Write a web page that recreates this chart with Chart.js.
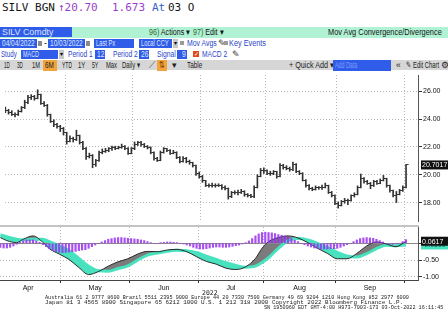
<!DOCTYPE html>
<html>
<head>
<meta charset="utf-8">
<script src="https://cdn.jsdelivr.net/npm/chart.js@4.4.1/dist/chart.umd.min.js"></script>
<style>
  body { margin: 0; width: 448px; height: 322px; overflow: hidden; background: #fff; position: relative;
         font-family: "Liberation Sans", Arial, sans-serif; }
  .a { position: absolute; white-space: nowrap; }
  .mono { font-family: "DejaVu Sans Mono", "Liberation Mono", monospace; }
  .t { font-size: 8.5px; line-height: 10px; transform-origin: 0 0; }
  .n { display: inline-block; transform-origin: 0 0; }
  .bx { background: #2f5ce8; color: #dfe6ff; height: 9px; line-height: 9px; font-size: 8.5px; padding-left: 2px; box-sizing: border-box; overflow: hidden; }
  .bl { color: #2a46c8; }
  .gq { background: #9a9a9a; width: 4px; height: 4px; }
  canvas { position: absolute; left: 0; }
  .foot { font-family: "Liberation Mono", "DejaVu Sans Mono", monospace; font-size: 5.3px; line-height: 6px; color: #222; transform-origin: 0 0; }
</style>
</head>
<body>
<!-- title line -->
<div class="a mono" style="left:2px;top:1px;font-size:11px;color:#151515">SILV BGN</div>
<div class="a mono" style="left:58px;top:1px;font-size:11px;color:#9b3fc9">↑20.70</div>
<div class="a mono" style="left:112px;top:1px;font-size:11px;color:#9b3fc9">1.673</div>
<div class="a mono" style="left:152px;top:1px;font-size:11px;color:#3a5fcd">At</div>
<div class="a mono" style="left:168px;top:1px;font-size:11px;color:#151515">03 O</div>

<!-- security bar -->
<div class="a" style="left:0;top:27px;width:448px;height:11px;background:#b2f2d4"></div>
<div class="a bx" style="left:0;top:27px;width:72px;height:10px;line-height:10px"><span class="n" data-w="51">SILV Comdty</span></div>
<div class="a t" data-w="41" style="left:149px;top:27px;color:#111"><span style="color:#2e6b2e">96)</span> Actions ▾</div>
<div class="a t" data-w="31" style="left:193px;top:27px;color:#111"><span style="color:#2e6b2e">97)</span> Edit ▾</div>
<div class="a t" data-w="114" style="left:328px;top:27px;color:#111">Mov Avg Convergence/Divergence</div>

<!-- date / pricing row -->
<div class="a bx" style="left:0;top:39px;width:37px"><span class="n" data-w="33">04/04/2022</span></div>
<div class="a" style="left:38px;top:41px;width:4px;height:5px;background:#8a8a8a"></div>
<div class="a t" style="left:44px;top:38px">-</div>
<div class="a bx" style="left:48px;top:39px;width:37px"><span class="n" data-w="33">10/03/2022</span></div>
<div class="a" style="left:86px;top:41px;width:4px;height:5px;background:#8a8a8a"></div>
<div class="a bx" style="left:94px;top:39px;width:40px"><span class="n" data-w="19">Last Px</span></div>
<div class="a bx" style="left:139px;top:39px;width:33px"><span class="n" data-w="28">Local CCY</span></div>
<div class="a" style="left:173px;top:39px;width:5px;height:9px;background:#c8c8c8;font-size:6px;line-height:9px;text-align:center">▾</div>
<div class="a gq" style="left:180px;top:41px"></div>
<div class="a t bl" data-w="30" style="left:187px;top:38px">Mov Avgs</div>
<div class="a t" style="left:218px;top:38px;color:#333">✎</div>
<div class="a gq" style="left:224px;top:41px"></div>
<div class="a t bl" data-w="37" style="left:229px;top:38px">Key Events</div>

<!-- study row -->
<div class="a t bl" data-w="16" style="left:1px;top:49px">Study</div>
<div class="a bx" style="left:21px;top:50px;width:37px"><span class="n" data-w="16">MACD</span></div>
<div class="a" style="left:59px;top:50px;width:5px;height:9px;background:#c8c8c8;font-size:6px;line-height:9px;text-align:center">▾</div>
<div class="a t bl" data-w="25" style="left:68px;top:49px">Period 1</div>
<div class="a bx" style="left:95px;top:50px;width:10px"><span class="n" data-w="7">12</span></div>
<div class="a t bl" data-w="25" style="left:113px;top:49px">Period 2</div>
<div class="a bx" style="left:139px;top:50px;width:10px"><span class="n" data-w="7">26</span></div>
<div class="a t bl" data-w="19" style="left:157px;top:49px">Signal</div>
<div class="a bx" style="left:177px;top:50px;width:10px;padding-left:5px"><span class="n" data-w="4">9</span></div>
<div class="a" style="left:193px;top:51px;width:6px;height:6px;background:#e24a1e;color:#fff;font-size:6px;line-height:6px;text-align:center">✓</div>
<div class="a t bl" data-w="25" style="left:202px;top:49px">MACD 2</div>
<div class="a t" style="left:232px;top:49px;color:#333">✎</div>

<!-- toolbar -->
<div class="a" style="left:0;top:60px;width:448px;height:10px;background:#d6d6d6"></div>
<div class="a t" data-w="6" style="left:4px;top:60px;color:#222">1D</div>
<div class="a t" data-w="6" style="left:17px;top:60px;color:#222">3D</div>
<div class="a t" data-w="8" style="left:32px;top:60px;color:#222">1M</div>
<div class="a" style="left:43px;top:60px;width:14px;height:11px;background:#f2a33a"></div>
<div class="a t" data-w="9" style="left:45px;top:60px;color:#222">6M</div>
<div class="a t" data-w="10" style="left:62px;top:60px;color:#222">YTD</div>
<div class="a t" data-w="7" style="left:78px;top:60px;color:#222">1Y</div>
<div class="a t" data-w="6" style="left:92px;top:60px;color:#222">5Y</div>
<div class="a t" data-w="11" style="left:106px;top:60px;color:#222">Max</div>
<div class="a t" data-w="18" style="left:122px;top:60px;color:#222">Daily ▾</div>
<div class="a t" style="left:149px;top:60px;color:#555">⟋</div>
<div class="a" style="left:157px;top:60px;width:10px;height:11px;background:#f2a33a"></div>
<div class="a t" data-w="6" style="left:159px;top:60px;color:#7a3a00">⇅</div>
<div class="a t" style="left:172px;top:60px;color:#222">▾</div>
<div class="a t" data-w="15" style="left:187px;top:60px;color:#222">Table</div>
<div class="a t" data-w="45" style="left:289px;top:60px;color:#222">+ Quick Add ▾</div>
<div class="a bx" style="left:333px;top:60px;width:58px;height:11px;line-height:10px;color:#7f9cff"><span class="n" data-w="22">Add Data</span></div>
<div class="a t" style="left:396px;top:60px;color:#222">«</div>
<div class="a t" data-w="33" style="left:406px;top:60px;color:#222">✎ Edit Chart</div>
<div class="a t" style="left:441px;top:60px;color:#222">⚙</div>

<canvas id="price" width="448" height="156" style="top:70px"></canvas>
<div class="a" style="left:0;top:225px;width:419px;height:2px;background:#c4c4c4"></div>
<canvas id="macd" width="448" height="66" style="top:227px"></canvas>

<div class="a mono" style="left:202px;top:289px;font-size:6.5px;color:#222">2022</div>
<div class="a foot" data-w="364" style="left:45px;top:295px">Australia 61 2 9777 8600 Brazil 5511 2395 9000 Europe 44 20 7330 7500 Germany 49 69 9204 1210 Hong Kong 852 2977 6000</div>
<div class="a foot" data-w="358" style="left:45px;top:300px">Japan 81 3 4565 8900      Singapore 65 6212 1000      U.S. 1 212 318 2000       Copyright 2022 Bloomberg Finance L.P.</div>
<div class="a foot" data-w="179" style="left:264px;top:305px">SN 1950960 EDT  GMT-4:00 H973-7003-173 03-Oct-2022 16:11:45</div>

<script>
// daily bars 04/04/2022 - 10/03/2022 (trading day index 0..124)
const opens = [24.70,24.60,24.50,24.35,24.30,24.55,24.80,25.20,25.55,25.60,
  25.50,25.75,25.15,25.00,24.30,23.85,23.60,23.45,23.30,23.00,
  22.40,22.60,22.50,22.80,22.30,21.90,21.30,21.40,20.70,21.00,
  21.60,21.70,21.75,21.85,21.95,21.90,21.95,22.05,21.90,21.55,
  21.85,22.20,22.30,22.15,22.05,21.95,21.60,21.15,21.05,21.60,
  21.85,21.75,21.55,21.60,21.25,20.95,21.20,20.95,20.85,20.65,
  20.10,19.85,19.55,19.25,19.20,19.25,19.20,19.25,19.10,19.00,
  18.40,18.70,18.75,18.70,18.80,18.55,18.50,18.40,19.10,19.90,
  20.30,20.30,20.10,20.10,20.20,19.90,20.65,20.55,20.45,20.35,
  20.75,20.20,20.10,19.60,19.20,19.00,18.95,19.05,19.05,19.10,
  19.20,18.70,18.50,17.95,17.80,18.05,18.15,18.15,18.50,18.60,
  19.10,19.75,19.50,19.40,19.20,19.50,19.40,19.60,19.70,19.20,
  18.85,18.50,18.60,18.85,19.10];
const highs = [24.85,24.70,24.60,24.45,24.65,24.90,25.35,25.70,25.75,25.70,
  26.10,25.80,25.25,25.05,24.35,23.95,23.70,23.55,23.40,23.05,
  22.80,22.70,23.20,22.85,22.40,21.95,21.55,21.45,21.10,21.70,
  21.85,21.90,21.95,22.05,22.05,22.05,22.20,22.10,21.95,21.95,
  22.35,22.40,22.40,22.25,22.10,22.00,21.65,21.25,21.70,21.95,
  21.90,21.80,21.75,21.65,21.30,21.30,21.25,21.05,20.90,20.70,
  20.20,19.95,19.60,19.35,19.40,19.35,19.35,19.30,19.20,19.05,
  18.80,18.85,18.90,18.95,18.85,18.65,18.60,19.20,20.00,20.45,
  20.50,20.35,20.25,20.30,20.25,20.80,20.75,20.65,20.55,20.90,
  20.80,20.30,20.15,19.65,19.30,19.10,19.20,19.15,19.25,19.40,
  19.25,18.80,18.55,18.05,18.15,18.30,18.25,18.55,18.70,19.20,
  20.05,19.80,19.60,19.45,19.60,19.60,19.70,19.95,19.75,19.25,
  18.90,18.80,18.95,19.20,20.75];
const lows = [24.45,24.35,24.25,24.15,24.25,24.50,24.75,25.10,25.40,25.35,
  25.45,25.05,24.90,24.20,23.75,23.45,23.35,23.10,22.85,22.20,
  22.35,22.35,22.45,22.20,21.80,21.10,21.20,20.50,20.60,20.95,
  21.50,21.60,21.65,21.75,21.80,21.85,21.90,21.80,21.45,21.50,
  21.80,22.10,22.05,21.95,21.85,21.50,21.05,20.95,21.00,21.55,
  21.65,21.45,21.50,21.15,20.85,20.90,20.85,20.75,20.55,19.95,
  19.75,19.45,19.15,19.10,19.10,19.10,19.15,18.95,18.90,18.25,
  18.35,18.60,18.55,18.65,18.45,18.40,18.35,18.35,19.05,19.85,
  20.10,20.00,19.95,20.00,19.75,19.85,20.40,20.35,20.25,20.30,
  20.15,20.00,19.55,19.10,18.90,18.85,18.90,18.95,18.95,19.05,
  18.65,18.40,17.85,17.60,17.75,17.95,17.85,18.10,18.40,18.55,
  19.05,19.40,19.30,19.00,19.15,19.30,19.35,19.55,19.10,18.75,
  18.40,18.00,18.55,18.80,19.05];
const closes = [24.60,24.50,24.35,24.30,24.55,24.80,25.20,25.55,25.60,25.50,
  25.75,25.15,25.00,24.30,23.85,23.60,23.45,23.30,23.00,22.40,
  22.60,22.50,22.80,22.30,21.90,21.30,21.40,20.70,21.00,21.60,
  21.70,21.75,21.85,21.95,21.90,21.95,22.05,21.90,21.55,21.85,
  22.20,22.30,22.15,22.05,21.95,21.60,21.15,21.05,21.60,21.85,
  21.75,21.55,21.60,21.25,20.95,21.20,20.95,20.85,20.65,20.10,
  19.85,19.55,19.25,19.20,19.25,19.20,19.25,19.10,19.00,18.40,
  18.70,18.75,18.70,18.80,18.55,18.50,18.40,19.10,19.90,20.30,
  20.30,20.10,20.10,20.20,19.90,20.65,20.55,20.45,20.35,20.75,
  20.20,20.10,19.60,19.20,19.00,18.95,19.05,19.05,19.10,19.20,
  18.70,18.50,17.95,17.80,18.05,18.15,18.15,18.50,18.60,19.10,
  19.75,19.50,19.40,19.20,19.50,19.40,19.60,19.70,19.20,18.85,
  18.50,18.60,18.85,19.10,20.7017];

// MACD(12,26,9)
const macdHist = [-0.12,-0.14,-0.14,-0.12,-0.08,-0.03,0.03,0.07,0.10,0.10,
  0.10,0.07,0.03,-0.04,-0.10,-0.16,-0.22,-0.25,-0.27,-0.28,
  -0.27,-0.26,-0.25,-0.24,-0.22,-0.20,-0.19,-0.15,-0.10,-0.05,
  0.00,0.04,0.08,0.12,0.14,0.16,0.17,0.17,0.16,0.15,
  0.14,0.13,0.12,0.10,0.08,0.05,0.02,0.00,0.00,0.02,
  0.03,0.04,0.04,0.03,0.02,0.00,-0.02,-0.05,-0.08,-0.12,
  -0.15,-0.17,-0.17,-0.16,-0.14,-0.12,-0.11,-0.11,-0.12,-0.12,
  -0.11,-0.09,-0.07,-0.05,-0.02,0.02,0.07,0.14,0.22,0.28,
  0.32,0.33,0.32,0.31,0.29,0.26,0.24,0.22,0.18,0.14,
  0.09,0.05,0.00,-0.04,-0.08,-0.11,-0.14,-0.16,-0.17,-0.17,
  -0.17,-0.16,-0.16,-0.15,-0.12,-0.08,-0.04,0.00,0.05,0.10,
  0.14,0.16,0.17,0.16,0.15,0.12,0.08,0.04,0.00,-0.02,
  -0.03,-0.02,0.00,0.05,0.11];
const macdIdx = [0,2,5,7,10,13,15,18,21,24,27,30,33,36,39,42,45,48,51,54,57,60,
  63,66,69,72,75,78,80,82,85,88,91,94,97,100,103,106,109,112,115,118,121,124];
const macdLine = [0.17,0.08,0.02,0.12,0.22,0.03,-0.16,-0.32,-0.48,-0.72,-0.93,-0.84,
  -0.68,-0.55,-0.46,-0.32,-0.24,-0.25,-0.20,-0.18,-0.25,-0.40,-0.54,-0.62,-0.74,-0.78,
  -0.70,-0.45,-0.15,0.05,0.17,0.22,0.16,0.02,-0.15,-0.30,-0.46,-0.46,-0.30,-0.08,0.04,
  -0.02,-0.10,0.0617];
const signalLine = [0.25,0.20,0.12,0.10,0.12,0.12,0.05,-0.08,-0.22,-0.45,-0.68,-0.82,
  -0.83,-0.75,-0.67,-0.50,-0.35,-0.29,-0.24,-0.21,-0.22,-0.28,-0.38,-0.48,-0.58,-0.66,
  -0.71,-0.68,-0.57,-0.43,-0.15,0.08,0.14,0.10,0.00,-0.13,-0.27,-0.38,-0.41,-0.31,-0.16,
  -0.06,-0.07,-0.05];

const monthLabels = ["Apr", "May", "Jun", "Jul", "Aug", "Sep"];
const monthMid = [8.5, 29, 50, 70.5, 91.5, 113];
const monthBounds = [18.5, 39.5, 60.5, 80.5, 102.5, 123.5];
const priceTicks = [18, 20, 22, 24, 26];
const macdTicks = [-1, -0.5, 0];

const X_MIN = -0.1, X_MAX = 127.7;
const AXIS_FONT = { family: '"Liberation Sans", Arial', size: 7 };
const GRID = "#b9b9b9";

function tickImg(left) {
  const c = document.createElement("canvas");
  c.width = 7; c.height = 1;
  const g = c.getContext("2d");
  g.fillStyle = "#333";
  g.fillRect(left ? 1 : 4, 0, 2, 1);
  return c;
}

const overlay = {
  id: "overlay",
  beforeDatasetsDraw(chart, args, opts) {
    if (!opts.zero) return;
    const { ctx, chartArea } = chart;
    const y = Math.round(chart.scales.y.getPixelForValue(0)) + 0.5;
    ctx.save();
    ctx.strokeStyle = "#8a8a8a";
    ctx.lineWidth = 1;
    ctx.beginPath();
    ctx.moveTo(chartArea.left, y);
    ctx.lineTo(chartArea.right, y);
    ctx.stroke();
    ctx.restore();
  },
  afterDraw(chart, args, opts) {
    const { ctx, chartArea } = chart;
    (opts.tags || []).forEach(t => {
      const y = chart.scales.y.getPixelForValue(t.value);
      ctx.save();
      ctx.fillStyle = t.bg;
      ctx.fillRect(chartArea.right + 3, y - 4.5, 30, 9);
      ctx.fillStyle = t.fg;
      ctx.font = '7px "Liberation Sans", Arial';
      ctx.textBaseline = "middle";
      ctx.fillText(t.text, chartArea.right + 4, y + 0.5);
      ctx.restore();
    });
  }
};

const fitY = s => { s.width = 30; s.paddingTop = 0; s.paddingBottom = 0; };
const fitX = s => { s.paddingLeft = 0; s.paddingRight = 0; };

new Chart(document.getElementById("price"), {
  type: "bar",
  data: {
    datasets: [
      {
        type: "bar",
        data: highs.map((h, i) => ({ x: i, y: [lows[i], h] })),
        backgroundColor: "#333",
        barThickness: 1,
        grouped: false
      },
      {
        type: "line",
        data: opens.map((v, i) => ({ x: i, y: v })),
        showLine: false,
        pointStyle: tickImg(true),
        pointRadius: 2
      },
      {
        type: "line",
        data: closes.map((v, i) => ({ x: i, y: v })),
        showLine: false,
        pointStyle: tickImg(false),
        pointRadius: 2
      }
    ]
  },
  options: {
    responsive: false,
    animation: false,
    devicePixelRatio: 1,
    layout: { padding: 0 },
    plugins: {
      legend: { display: false },
      tooltip: { enabled: false },
      overlay: { tags: [{ value: closes[closes.length - 1], text: closes[closes.length - 1].toFixed(4), bg: "#111", fg: "#fff" }] }
    },
    scales: {
      x: {
        type: "linear", min: X_MIN, max: X_MAX, offset: false,
        grid: { offset: false, color: GRID, drawTicks: false },
        border: { display: false, dash: [1, 2] },
        ticks: { display: false },
        afterBuildTicks: s => { s.ticks = monthBounds.map(v => ({ value: v })); },
        afterFit: fitX
      },
      y: {
        position: "right", min: 16.676, max: 27.163, bounds: "data",
        grid: { color: GRID, tickColor: "#333", tickLength: 4 },
        border: { color: "#555", dash: [1, 2] },
        ticks: { font: AXIS_FONT, color: "#111", padding: 1, callback: v => v.toFixed(2) },
        afterBuildTicks: s => { s.ticks = priceTicks.map(v => ({ value: v })); },
        afterFit: fitY
      }
    }
  },
  plugins: [overlay]
});

new Chart(document.getElementById("macd"), {
  type: "bar",
  data: {
    datasets: [
      {
        type: "bar",
        data: macdHist.map((v, i) => ({ x: i, y: v })),
        backgroundColor: "rgba(150,48,240,0.85)",
        barThickness: 1.5,
        grouped: false,
        order: 0
      },
      {
        type: "line",
        data: macdIdx.map((x, k) => ({ x, y: signalLine[k] })),
        borderColor: "#48e2bf",
        borderWidth: 3,
        pointRadius: 0,
        cubicInterpolationMode: "monotone",
        fill: false,
        order: 2
      },
      {
        type: "line",
        data: macdIdx.map((x, k) => ({ x, y: macdLine[k] })),
        borderColor: "#2a2a2a",
        borderWidth: 1,
        pointRadius: 0,
        cubicInterpolationMode: "monotone",
        fill: { target: 1, above: "#7b7b7b", below: "#48e2bf" },
        order: 1
      }
    ]
  },
  options: {
    responsive: false,
    animation: false,
    devicePixelRatio: 1,
    layout: { padding: 0 },
    plugins: {
      legend: { display: false },
      tooltip: { enabled: false },
      filler: { drawTime: "beforeDatasetsDraw" },
      overlay: {
        zero: true,
        tags: [
          { value: signalLine[signalLine.length - 1], text: signalLine[signalLine.length - 1].toFixed(4), bg: "#48e2bf", fg: "#1a5a4a" },
          { value: macdLine[macdLine.length - 1], text: macdLine[macdLine.length - 1].toFixed(4), bg: "#111", fg: "#fff" }
        ]
      }
    },
    scales: {
      x: {
        type: "linear", min: X_MIN, max: X_MAX, offset: false, weight: 0,
        grid: { offset: false, color: GRID, tickColor: "#333", tickLength: 3 },
        border: { display: true, color: "#444", dash: [1, 2] },
        ticks: { display: false },
        afterBuildTicks: s => { s.ticks = monthBounds.map(v => ({ value: v })); },
        afterFit: fitX
      },
      xm: {
        type: "linear", position: "bottom", min: X_MIN, max: X_MAX, offset: false, weight: 1,
        grid: { display: false, drawTicks: false },
        border: { display: false },
        ticks: { font: AXIS_FONT, color: "#111", padding: 1, autoSkip: false, maxRotation: 0,
                 callback: (v, i) => monthLabels[i] },
        afterBuildTicks: s => { s.ticks = monthMid.map(v => ({ value: v })); },
        afterFit: s => { s.height = 10; s.paddingLeft = 0; s.paddingRight = 0; }
      },
      y: {
        position: "right", min: -1.092, max: 0.485, bounds: "data",
        grid: { color: GRID, tickColor: "#333", tickLength: 4 },
        border: { color: "#555", dash: [1, 2] },
        ticks: { font: AXIS_FONT, color: "#111", padding: 1, callback: v => v.toFixed(2) },
        afterBuildTicks: s => { s.ticks = macdTicks.map(v => ({ value: v })); },
        afterFit: fitY
      }
    }
  },
  plugins: [overlay]
});

// squeeze header / footer text to the widths it takes in the terminal print
document.querySelectorAll("[data-w]").forEach(el => {
  el.style.transform = "scaleX(" + (el.dataset.w / el.offsetWidth) + ")";
});
</script>
</body>
</html>
